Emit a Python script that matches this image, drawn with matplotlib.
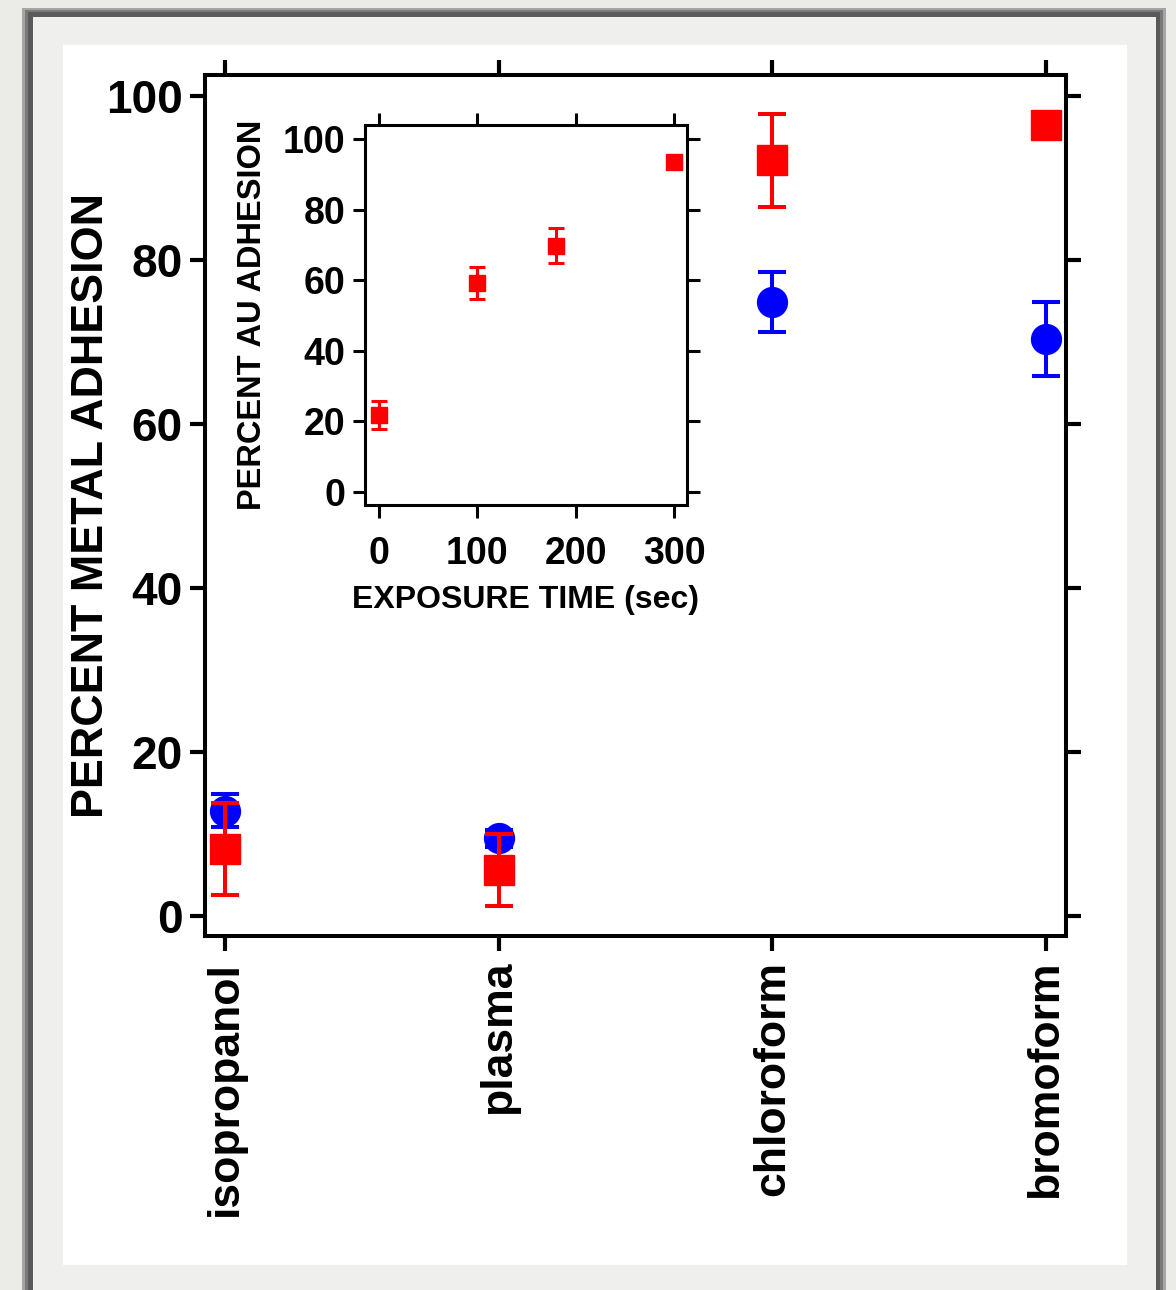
import matplotlib
matplotlib.use("Agg")
import matplotlib.pyplot as plt
from matplotlib.patches import Rectangle
import numpy as np

plt.rcParams['font.family'] = ['Liberation Sans', 'DejaVu Sans']
plt.rcParams['font.weight'] = 'bold'

# main chart data
solvents = ["isopropanol", "plasma", "chloroform", "bromoform"]
au_adhesion = [8.2, 5.7, 92.2, 96.5]       # red squares
au_err = [5.6, 4.4, 5.7, 0.0]
other_adhesion = [12.9, 9.5, 74.9, 70.4]   # blue circles
other_err = [2.0, 1.0, 3.7, 4.5]

# inset data
exposure_time = [0, 100, 180, 300]
au_vs_time = [21.8, 59.3, 69.8, 93.4]
au_vs_time_err = [4.0, 4.5, 5.0, 0.0]

W, H = 1176, 1290
fig = plt.figure(figsize=(W / 100, H / 100), dpi=100)
fig.patch.set_facecolor('#ebebe8')


def px_rect(x0, y0, x1, y1, color, z):
    # rectangle given in pixel coords (top-left origin)
    r = Rectangle((x0 / W, 1 - y1 / H), (x1 - x0) / W, (y1 - y0) / H,
                  transform=fig.transFigure, facecolor=color, edgecolor='none', zorder=z)
    fig.patches.append(r)


# picture frame
px_rect(22, 8, 1166, 1290, '#a5a5a3', -10)
px_rect(25, 10, 1163, 1290, '#7a7a7a', -9)
px_rect(28, 12, 1160, 1290, '#5a5a5a', -8)
px_rect(33, 17, 1156, 1290, '#efefed', -7)
px_rect(63, 45, 1127, 1265, 'white', -6)

red = '#ff0000'
blue = '#0000ff'

# ---- main axes ----
ax = fig.add_axes([205 / W, 1 - 936 / H, (1066 - 205) / W, (936 - 75) / H])
ax.set_facecolor('white')
x = np.arange(len(solvents))

ax.errorbar(x, other_adhesion, yerr=other_err, fmt='o', color=blue, ms=21.5,
            elinewidth=2.9, capsize=10, capthick=2.9, zorder=3)
ax.errorbar(x, au_adhesion, yerr=au_err, fmt='s', color=red, ms=21.5,
            elinewidth=2.9, capsize=10, capthick=2.9, zorder=4)

ax.set_xlim(-0.073, 3.073)
ax.set_ylim(-2.4, 102.6)
ax.set_xticks(x)
ax.set_xticklabels(solvents, rotation=90, fontweight='bold')
ax.set_yticks([0, 20, 40, 60, 80, 100])
ax.tick_params(axis='both', direction='out', top=True, right=True,
               length=11, width=3)
ax.tick_params(axis='x', pad=7, labelsize=32)
ax.tick_params(axis='y', pad=5, labelsize=33)
ax.set_ylabel("PERCENT METAL ADHESION", fontsize=32.3, fontweight='bold', labelpad=-4)
for s in ax.spines.values():
    s.set_linewidth(2.9)

# ---- inset ----
ins = fig.add_axes([365 / W, 1 - 505 / H, (687 - 365) / W, (505 - 125) / H])
ins.errorbar(exposure_time, au_vs_time, yerr=au_vs_time_err, fmt='s', color=red,
             ms=12, elinewidth=2.2, capsize=6, capthick=2.2, zorder=3)
ins.set_xlim(-14, 313)
ins.set_ylim(-3.7, 104)
ins.set_xticks([0, 100, 200, 300])
ins.set_yticks([0, 20, 40, 60, 80, 100])
ins.tick_params(axis='both', direction='out', top=True, right=True,
                length=9, width=2.2, labelsize=27)
ins.tick_params(axis='x', pad=13)
ins.tick_params(axis='y', pad=5)
ins.set_xlabel("EXPOSURE TIME (sec)", fontsize=23, fontweight='bold', labelpad=10)
ins.set_ylabel("PERCENT AU ADHESION", fontsize=23.5, fontweight='bold', labelpad=11)
for s in ins.spines.values():
    s.set_linewidth(2.2)

fig.savefig("out.png", dpi=100, facecolor=fig.get_facecolor())
